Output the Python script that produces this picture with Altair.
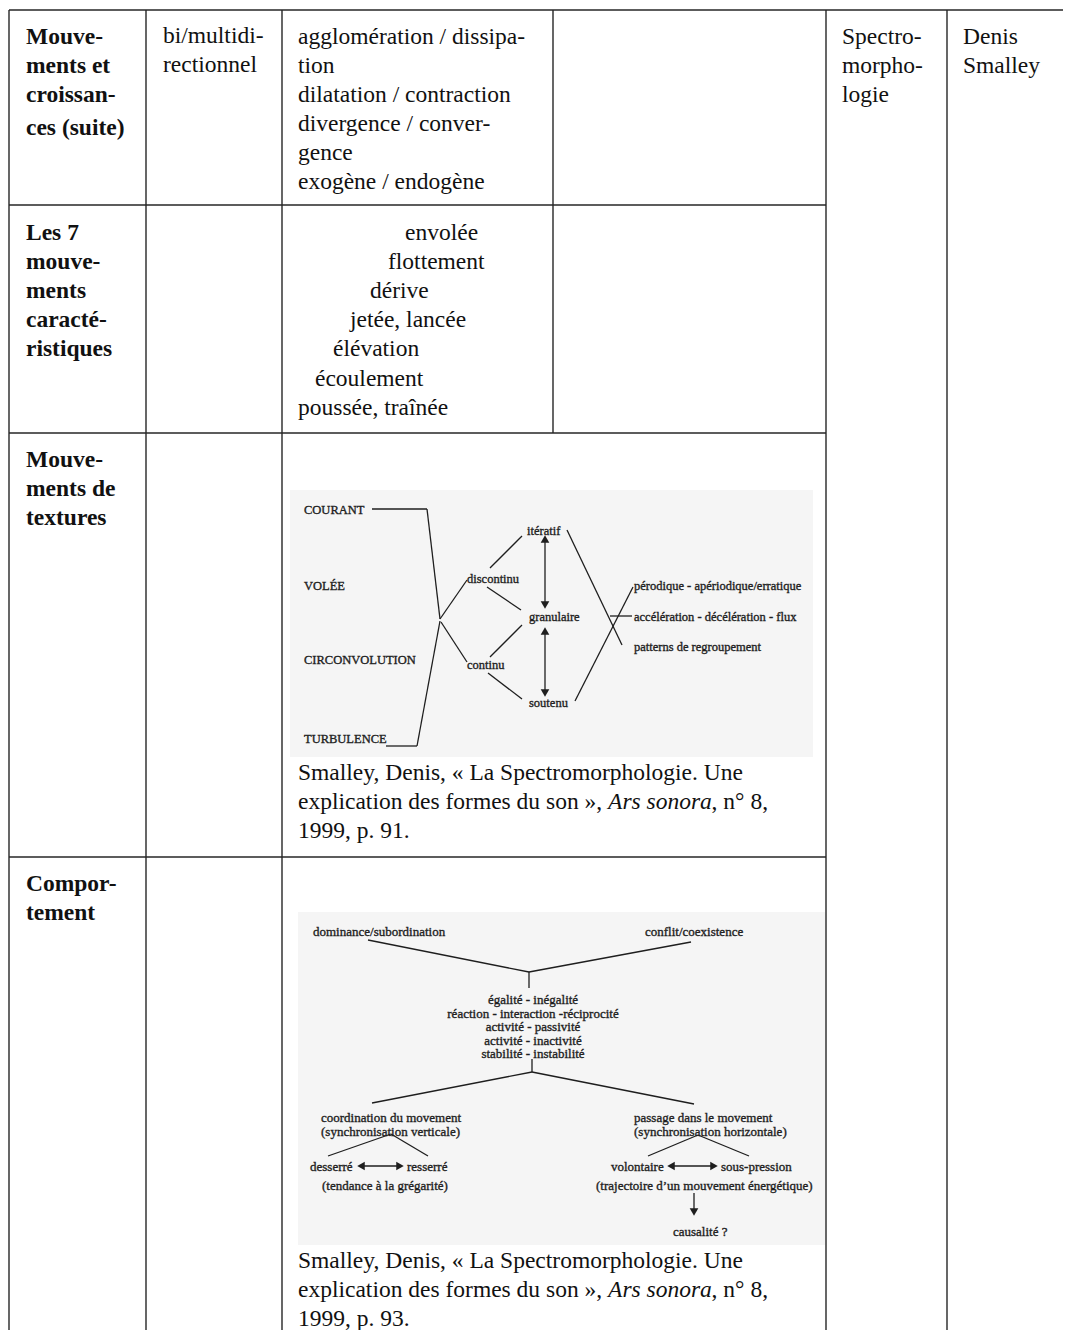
import altair as alt
import pandas as pd

# ---------------- content (text of the table) ----------------
row_headers = [
    ["Mouve-", "ments et", "croissan-", "ces (suite)"],
    ["Les 7", "mouve-", "ments", "caracté-", "ristiques"],
    ["Mouve-", "ments de", "textures"],
    ["Compor-", "tement"],
]
direction_text = ["bi/multidi-", "rectionnel"]
growth_terms = ["agglomération / dissipa-", "tion", "dilatation / contraction",
                "divergence / conver-", "gence", "exogène / endogène"]
seven_movements = ["envolée", "flottement", "dérive", "jetée, lancée",
                   "élévation", "écoulement", "poussée, traînée"]
theory_name = ["Spectro-", "morpho-", "logie"]
author_name = ["Denis", "Smalley"]
citation_line1 = "Smalley, Denis, « La Spectromorphologie. Une"
citation_line2 = ["explication des formes du son », ", "Ars sonora", ", n° 8,"]
citation_pages = ["91", "93"]

texture_sources = ["COURANT", "VOLÉE", "CIRCONVOLUTION", "TURBULENCE"]
texture_modes = ["discontinu", "continu"]
texture_grain = ["itératif", "granulaire", "soutenu"]
texture_patterns = ["pérodique - apériodique/erratique",
                    "accélération - décélération - flux",
                    "patterns de regroupement"]

behaviour_top = ["dominance/subordination", "conflit/coexistence"]
behaviour_pairs = ["égalité - inégalité", "réaction - interaction -réciprocité",
                   "activité - passivité", "activité - inactivité",
                   "stabilité - instabilité"]
behaviour_left = ["coordination du movement", "(synchronisation verticale)"]
behaviour_right = ["passage dans le movement", "(synchronisation horizontale)"]
left_pair = ["desserré", "resserré"]
left_note = "(tendance à la grégarité)"
right_pair = ["volontaire", "sous-pression"]
right_note = "(trajectoire d’un mouvement énergétique)"
outcome = "causalité ?"

# ---------------- layout (page pixels) ----------------
W, H = 1055, 1322
X0, Y0 = 8, 8
FONT = "Liberation Serif"
FS = 23.5
LEAD = 28.9
INK = "#111111"
DIA = "#1e1e1e"

col_x = [9, 146, 282, 553, 826, 947]
row_top = [10, 205, 433, 857]
page_right, page_bottom = 1071, 1344

X = alt.X("x:Q", scale=alt.Scale(domain=[X0, X0 + W], nice=False, zero=False), axis=None)
Y = alt.Y("y:Q", scale=alt.Scale(domain=[Y0, Y0 + H], reverse=True, nice=False, zero=False), axis=None)


def seg_df(segs):
    return pd.DataFrame(segs, columns=["x", "y", "x2", "y2"])


def rule_layer(segs, color, width):
    return alt.Chart(seg_df(segs)).mark_rule(color=color, strokeWidth=width).encode(
        x=X, y=Y, x2="x2:Q", y2="y2:Q")


def text_layer(recs, size, color=INK, weight="normal", style="normal", align="left", halo=0):
    df = pd.DataFrame(recs, columns=["x", "y", "text"])
    kw = dict(font=FONT, fontSize=size, fontWeight=weight, fontStyle=style, align=align,
              baseline="middle", color=color)
    if halo:
        kw.update(stroke=color, strokeWidth=halo)
    return alt.Chart(df).mark_text(**kw).encode(x=X, y=Y, text="text:N")


# ---- picture backgrounds (scanned figures) ----
bg = pd.DataFrame([[290, 490, 813, 757], [298, 912, 825, 1245]],
                  columns=["x", "y", "x2", "y2"])
bg_layer = alt.Chart(bg).mark_rect(color="#f5f5f5").encode(x=X, y=Y, x2="x2:Q", y2="y2:Q")

# ---- table grid ----
grid = [[col_x[0], row_top[0], page_right, row_top[0]]]
for ry in row_top[1:]:
    grid.append([col_x[0], ry, col_x[4], ry])
for cx in [col_x[0], col_x[1], col_x[2], col_x[4], col_x[5]]:
    grid.append([cx, row_top[0], cx, page_bottom])
grid.append([col_x[3], row_top[0], col_x[3], row_top[2]])
grid_layer = rule_layer(grid, "#262626", 1.4)

# ---- table text ----
normal, bold, italic = [], [], []
header_y0 = [37, 233, 460, 884]
for r, lines in enumerate(row_headers):
    for i, t in enumerate(lines):
        extra = 4 if (r == 0 and i == 3) else 0
        bold.append([26, header_y0[r] + i * LEAD + extra, t])
for i, t in enumerate(direction_text):
    normal.append([163, 36 + i * LEAD, t])
for i, t in enumerate(growth_terms):
    normal.append([298, 37 + i * LEAD, t])
stair_x = [405, 388, 370, 350, 333, 315, 298]
for i, t in enumerate(seven_movements):
    normal.append([stair_x[i], 233 + i * 29.1, t])
for i, t in enumerate(theory_name):
    normal.append([842, 37 + i * LEAD, t])
for i, t in enumerate(author_name):
    normal.append([963, 37 + i * LEAD, t])

prefix_em, italic_em = 13.193, 4.408
for cy, page in zip([773, 1261], citation_pages):
    normal.append([298, cy, citation_line1])
    normal.append([298, cy + LEAD, citation_line2[0]])
    italic.append([298 + prefix_em * FS, cy + LEAD, citation_line2[1]])
    normal.append([298 + (prefix_em + italic_em) * FS, cy + LEAD, citation_line2[2]])
    normal.append([298, cy + 2 * LEAD, f"1999, p. {page}."])

# ---- figure 1 : textures ----
fig1_text = []
for t, y in zip(texture_sources, [510, 586, 660, 739]):
    fig1_text.append([304, y, t])
for t, y in zip(texture_modes, [579, 665]):
    fig1_text.append([467, y, t])
for t, x, y in zip(texture_grain, [527, 529, 529], [531, 617, 703]):
    fig1_text.append([x, y, t])
for t, y in zip(texture_patterns, [586, 617, 647]):
    fig1_text.append([634, y, t])

fig1_lines = [
    [372, 509, 427, 509], [427, 509, 440, 619],
    [386, 746, 417, 746], [417, 746, 440, 621],
    [440, 619, 467, 580], [441, 622, 467, 662],
    [490, 568, 522, 536], [487, 587, 521, 610],
    [490, 657, 522, 625], [488, 673, 522, 699],
    [567, 530, 622, 645], [575, 701, 633, 587],
    [610, 616, 632, 616],
    [545, 538, 545, 606], [545, 630, 545, 694],
]

# ---- figure 2 : behaviour ----
fig2_left = [[313, 932, behaviour_top[0]], [645, 932, behaviour_top[1]]]
for i, t in enumerate(behaviour_left):
    fig2_left.append([321, 1118 + i * 13.5, t])
for i, t in enumerate(behaviour_right):
    fig2_left.append([634, 1118 + i * 13.5, t])
fig2_left += [[310, 1167, left_pair[0]], [407, 1167, left_pair[1]],
              [322, 1186, left_note],
              [611, 1167, right_pair[0]], [721, 1167, right_pair[1]],
              [596, 1186, right_note], [673, 1232, outcome]]
fig2_center = [[533, 1000 + i * 13.5, t] for i, t in enumerate(behaviour_pairs)]

fig2_lines = [
    [368, 940, 529, 972], [691, 942, 529, 972], [529, 972, 529, 988],
    [532, 1059, 532, 1072], [532, 1072, 372, 1103], [532, 1072, 694, 1104],
    [328, 1156, 391, 1134], [391, 1134, 428, 1156],
    [648, 1156, 698, 1135], [698, 1135, 749, 1156],
    [360, 1166, 402, 1166], [670, 1166, 716, 1166], [694, 1193, 694, 1210],
]

heads = pd.DataFrame([
    [545, 539, "triangle-up"], [545, 605, "triangle-down"],
    [545, 631, "triangle-up"], [545, 693, "triangle-down"],
    [361, 1166, "triangle-left"], [400, 1166, "triangle-right"],
    [671, 1166, "triangle-left"], [714, 1166, "triangle-right"],
    [694, 1212, "triangle-down"],
], columns=["x", "y", "shape"])
head_layer = alt.Chart(heads).mark_point(filled=True, size=75, color=DIA, opacity=1).encode(
    x=X, y=Y, shape=alt.Shape("shape:N", scale=None))

chart = alt.layer(
    bg_layer,
    grid_layer,
    rule_layer(fig1_lines + fig2_lines, DIA, 1.3),
    head_layer,
    text_layer(normal, FS),
    text_layer(bold, FS, weight="bold"),
    text_layer(italic, FS, style="italic"),
    text_layer(fig1_text, 12.5, color=DIA, halo=0.35),
    text_layer(fig2_left, 13, color=DIA, halo=0.35),
    text_layer(fig2_center, 13, color=DIA, align="center", halo=0.35),
).properties(width=W, height=H, padding=0, autosize="none").configure_view(strokeWidth=0)

chart.save("out.html", embed_options={"renderer": "svg", "actions": False})
